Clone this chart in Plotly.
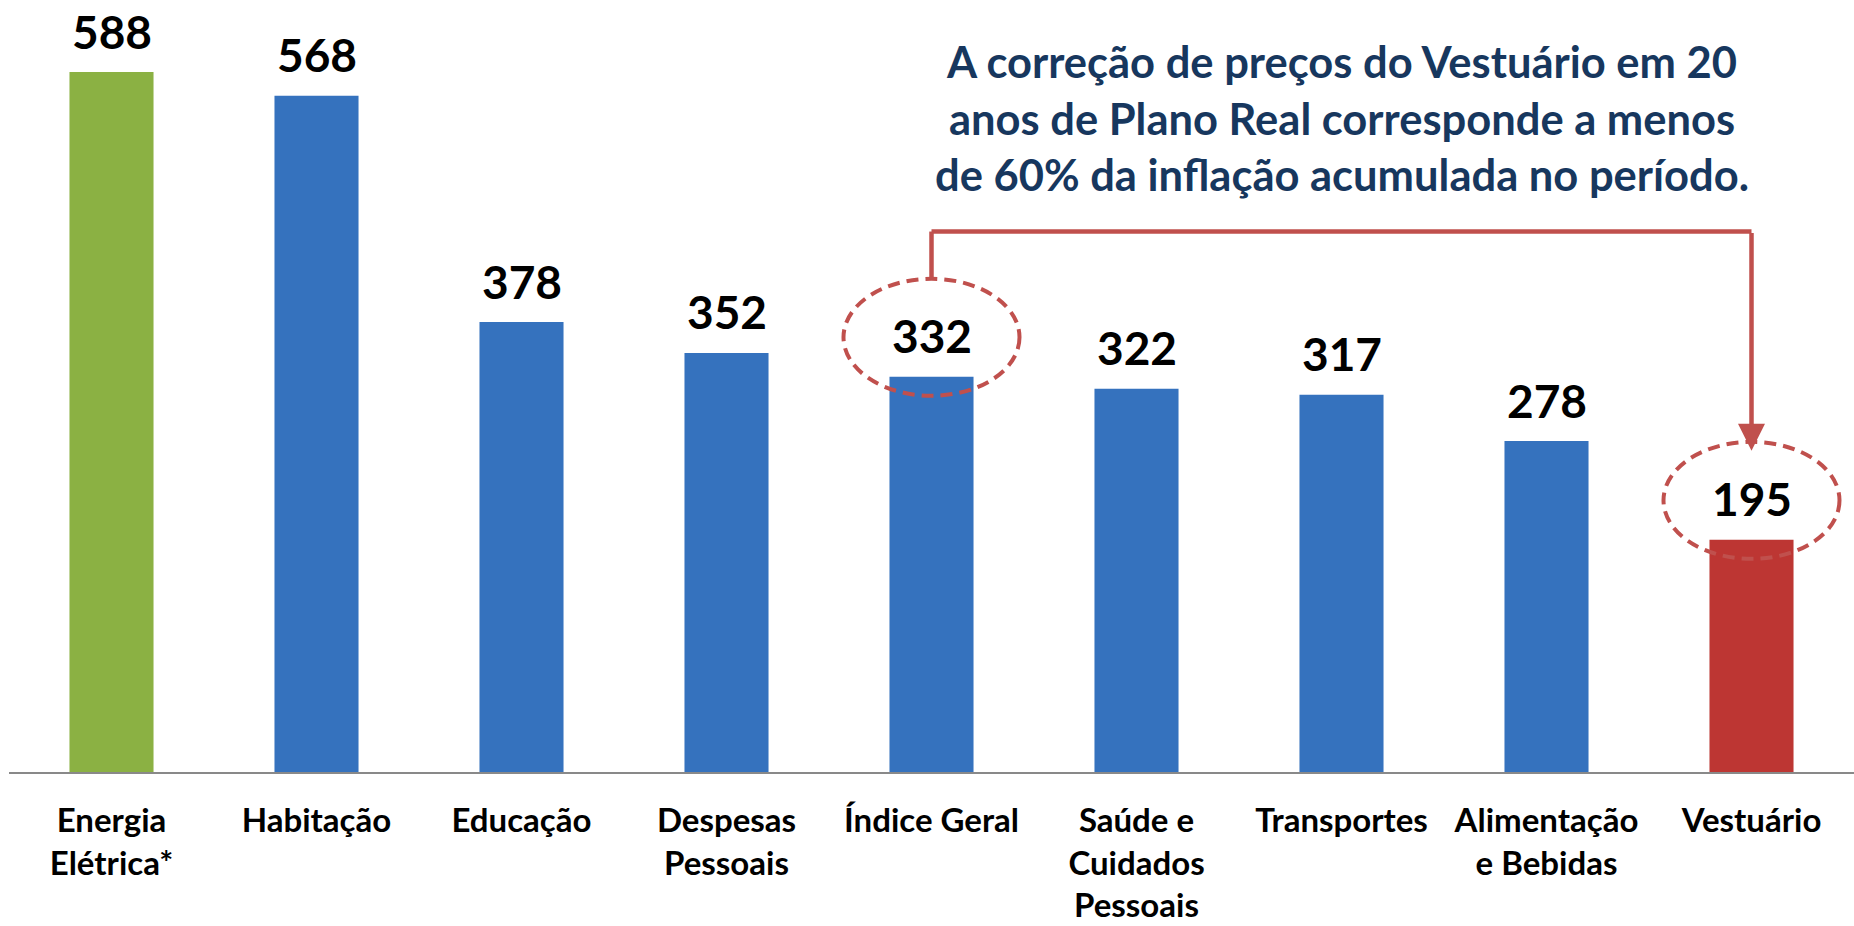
import plotly.graph_objects as go

categories = ["Energia Elétrica*", "Habitação", "Educação", "Despesas Pessoais",
              "Índice Geral", "Saúde e Cuidados Pessoais", "Transportes",
              "Alimentação e Bebidas", "Vestuário"]
tick_labels = ["Energia<br>Elétrica*", "Habitação", "Educação", "Despesas<br>Pessoais",
               "Índice Geral", "Saúde e<br>Cuidados<br>Pessoais", "Transportes",
               "Alimentação<br>e Bebidas", "Vestuário"]
values = [588, 568, 378, 352, 332, 322, 317, 278, 195]
bar_colors = ["#8BB143"] + ["#3572BE"] * 7 + ["#BD3633"]

note_text = ("A correção de preços do Vestuário em 20<br>"
             "anos de Plano Real corresponde a menos<br>"
             "de 60% da inflação acumulada no período.")

FONT = "Lato"
RED = "#C0504D"

fig = go.Figure()
fig.add_trace(go.Bar(
    x=categories, y=values,
    marker=dict(color=bar_colors, line=dict(width=0)),
    hoverinfo="x+y",
))

annotations = []
for c, v in zip(categories, values):
    annotations.append(dict(
        x=c, y=v, xref="x", yref="y", text=f"<b>{v}</b>", showarrow=False,
        yanchor="middle", yshift=41,
        font=dict(family=FONT, size=46, color="black"),
    ))

# explanatory note
annotations.append(dict(
    x="Transportes", y=550, xref="x", yref="y", text=f"<b>{note_text}</b>",
    showarrow=False, align="center", xanchor="center", yanchor="middle",
    font=dict(family=FONT, size=43.5, color="#17375E"),
))

i_src = categories.index("Índice Geral")
i_dst = categories.index("Vestuário")
y_conn = 454      # level of the horizontal connector
y_loop_top = 414  # top of the dashed ellipse around Índice Geral

# arrow last segment
annotations.append(dict(
    x=i_dst, y=values[i_dst], xref="x", yref="y",
    ax=i_dst, ay=y_conn, axref="x", ayref="y",
    text="", showarrow=True, arrowhead=2, arrowsize=1.2, arrowwidth=4.5,
    arrowcolor=RED, standoff=89,
))

shapes = []
for idx in (i_src, i_dst):
    shapes.append(dict(
        type="circle", xref="x", yref="y",
        xsizemode="pixel", ysizemode="pixel",
        xanchor=idx, yanchor=values[idx],
        x0=-88, x1=88, y0=-19, y1=98,
        line=dict(color=RED, width=4, dash="12px,7px"),
        layer="above",
    ))

shapes.append(dict(type="line", xref="x", yref="y",
                   x0=i_src, x1=i_src, y0=y_loop_top, y1=y_conn,
                   line=dict(color=RED, width=4.5)))
shapes.append(dict(type="line", xref="x", yref="y",
                   x0=i_src, x1=i_dst, y0=y_conn, y1=y_conn,
                   line=dict(color=RED, width=4.5)))

fig.update_layout(
    width=1854, height=926,
    margin=dict(l=9, r=0, t=0, b=154, pad=0, autoexpand=False),
    plot_bgcolor="white", paper_bgcolor="white",
    bargap=0.59,
    showlegend=False,
    annotations=annotations,
    shapes=shapes,
    xaxis=dict(
        tickmode="array", tickvals=categories,
        ticktext=[f"<b>{t}</b>" for t in tick_labels],
        showline=True, linecolor="#898989", linewidth=2,
        ticks="outside", ticklen=18, tickcolor="rgba(0,0,0,0)",
        tickfont=dict(family=FONT, size=33, color="black"),
        showgrid=False, zeroline=False, tickangle=0, automargin=False,
    ),
    yaxis=dict(visible=False, range=[0, 648.5], showgrid=False, zeroline=False,
               automargin=False),
)

fig.write_html("out.html", config={"displayModeBar": False},
               post_script="document.body.style.margin='0';")
